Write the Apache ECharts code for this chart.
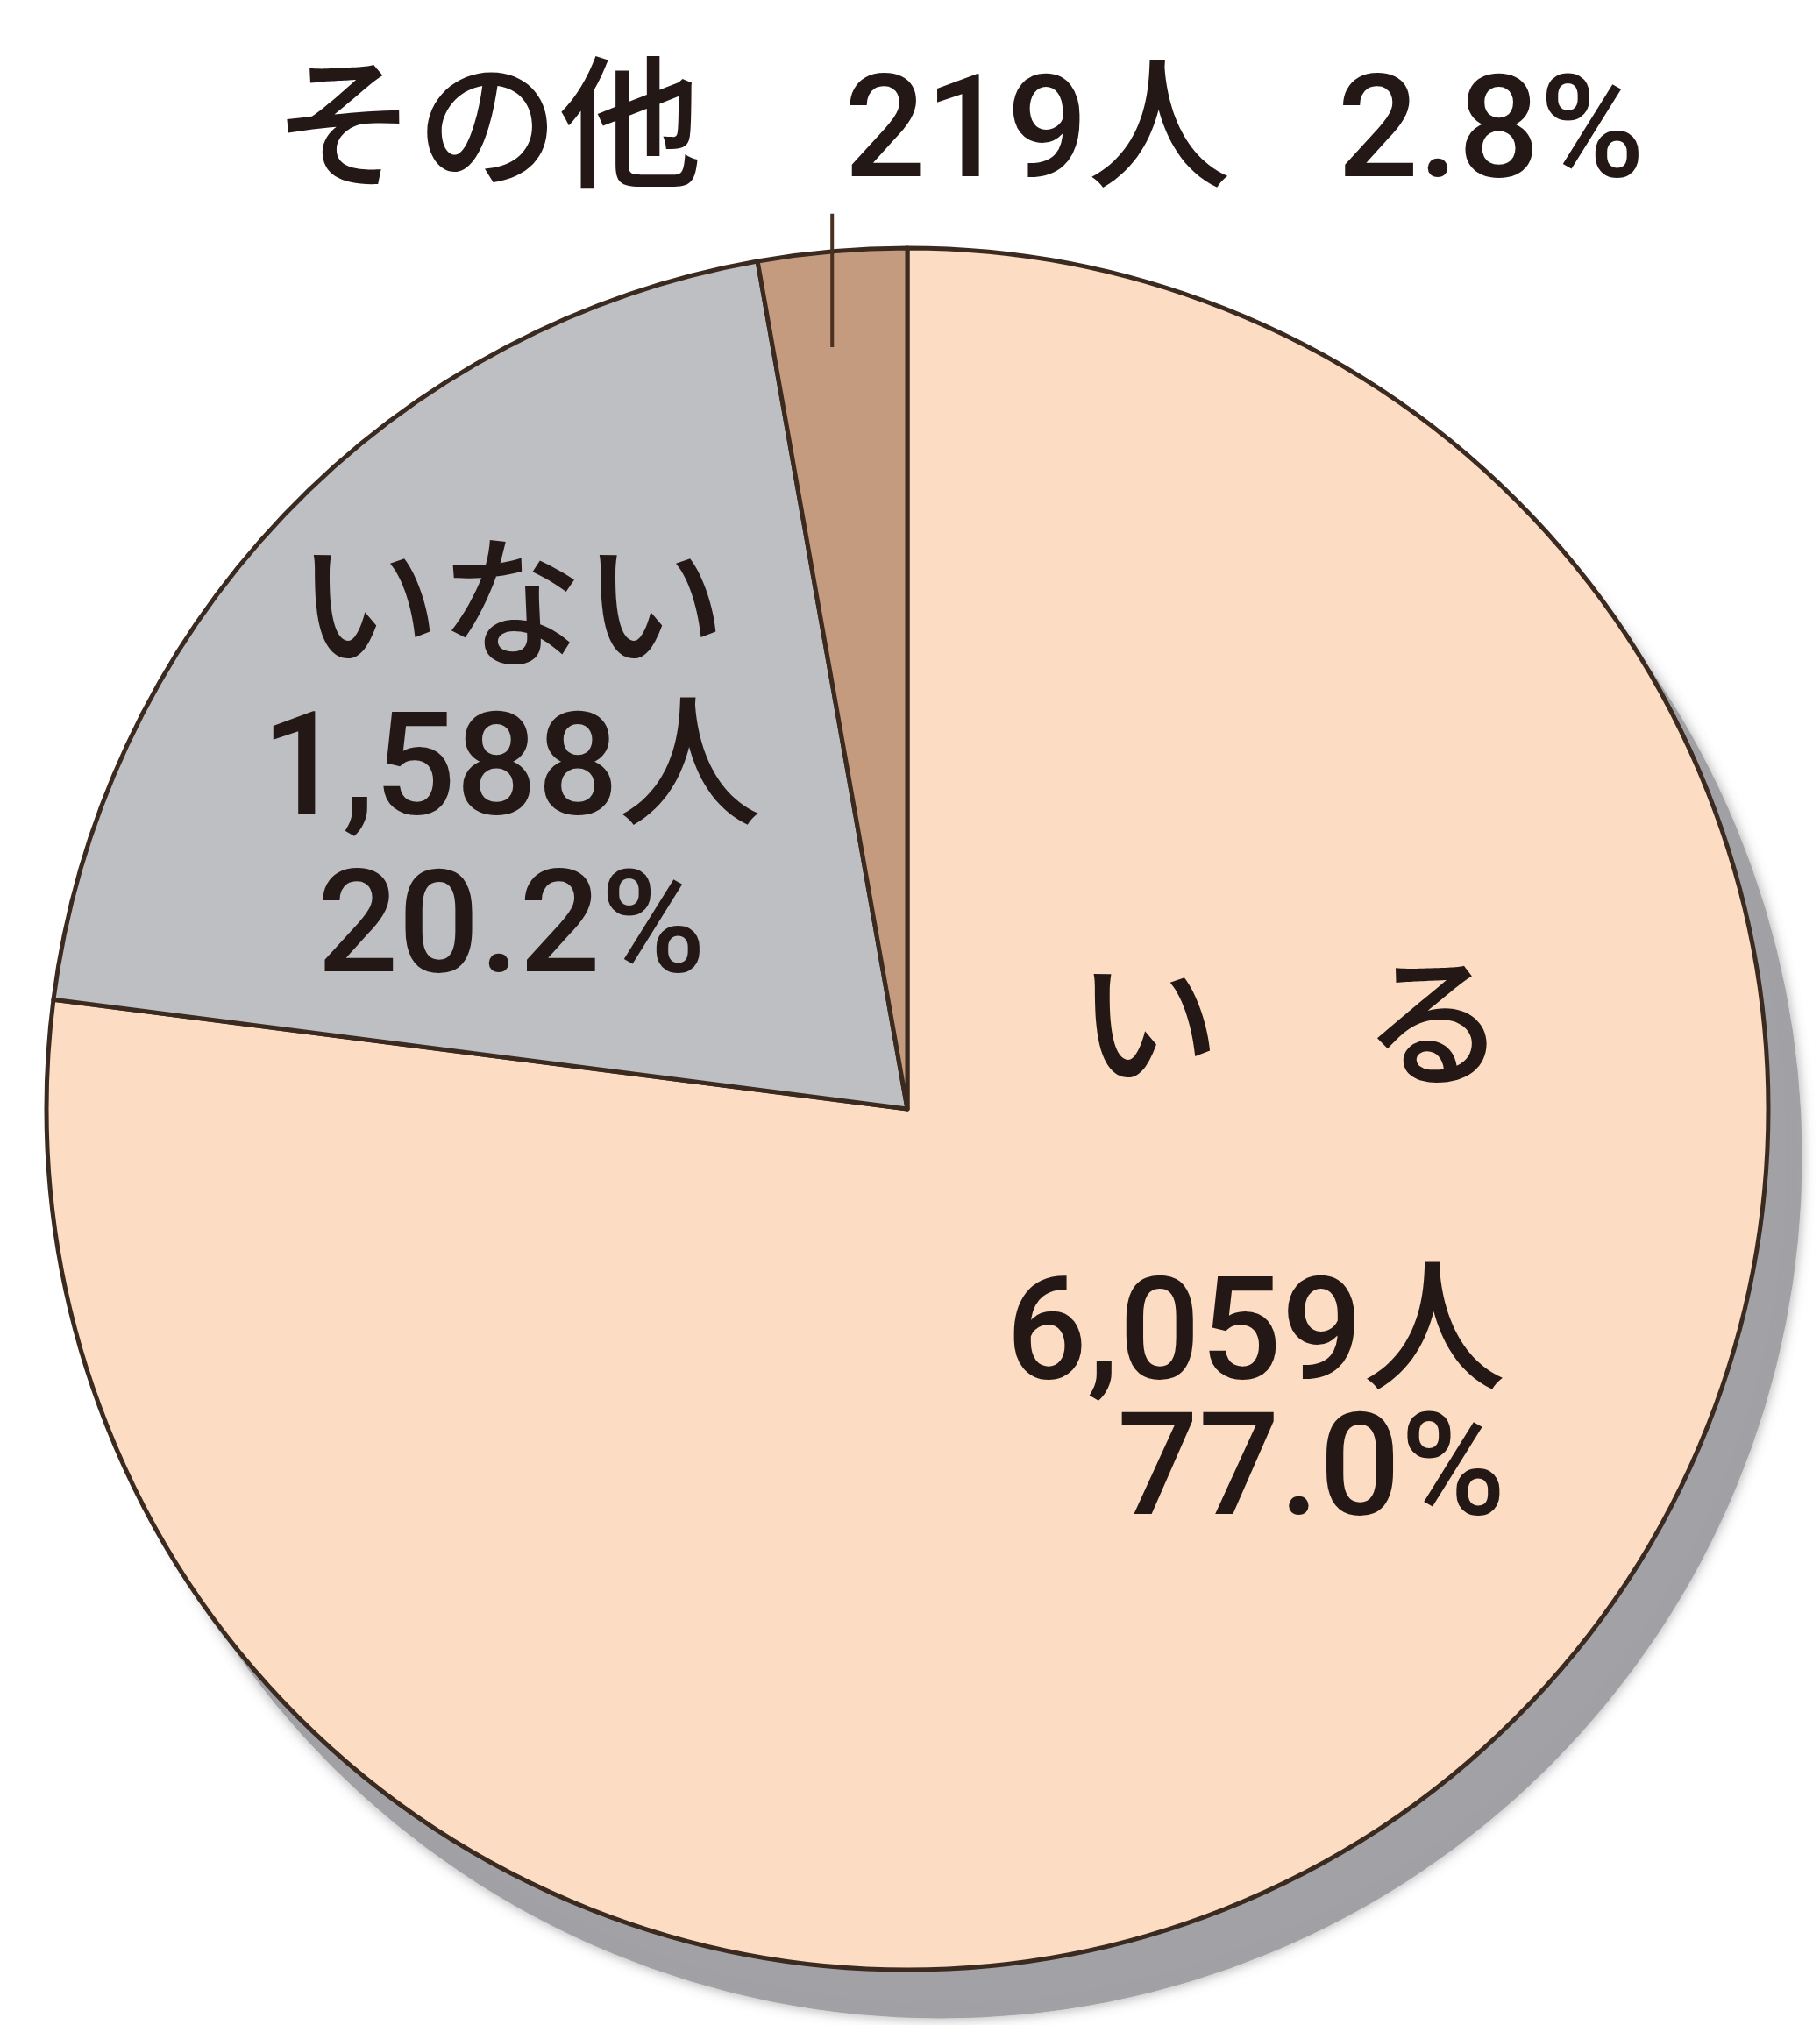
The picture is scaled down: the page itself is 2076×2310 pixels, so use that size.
<!DOCTYPE html>
<html>
<head>
    <meta charset="utf-8">
    <title>ECharts</title>
    <script src="https://cdn.jsdelivr.net/npm/echarts@6/dist/echarts.min.js"></script>
</head>
<body style="margin:0;background:#fff;">
    <div id="main" style="width: 2076px;height:2310px;"></div>
    <script type="text/javascript">
        var myChart = echarts.init(document.getElementById('main'));

        // data
        var categories = ['い　る', 'いない', 'その他'];
        var counts = [6059, 1588, 219];
        var colors = ['#fcdcc2', '#bebfc2', '#c49b7e'];

        // pie geometry (px)
        var CX = 1035, CY = 1265, R = 982;
        var FONT = 'Roboto, "Liberation Sans", "Noto Sans CJK JP", sans-serif';
        var INK = '#231815';
        var FS = 163;

        function fmtLabel(p) {
            var n = echarts.format.addCommas(p.value) + '人';
            var pc = p.percent.toFixed(1) + '%';
            if (p.dataIndex === 0) {
                return '{a|' + p.name + '}\n{sp| }\n{v|' + n + '}\n{v|' + pc + '}';
            }
            if (p.dataIndex === 1) {
                return '{b|' + p.name + '}\n{b|' + n + '}\n{b|' + pc + '}';
            }
            return '{c|' + p.name + '    ' + n + '   ' + pc + '}';
        }

        var pieData = categories.map(function (name, i) {
            return {
                name: name,
                value: counts[i],
                itemStyle: { color: colors[i] }
            };
        });

        var shadowData = categories.map(function (name, i) {
            return { name: name, value: counts[i] };
        });

        // leader line for the small slice, at its mid angle
        var total = counts.reduce(function (a, b) { return a + b; }, 0);
        var before = counts[0] + counts[1];
        var midAng = (before + counts[2] / 2) / total * 2 * Math.PI;
        var leadX = CX + R * Math.sin(midAng);

        var txt = { color: INK, fontFamily: FONT, fontWeight: 500 };

        option = {
            backgroundColor: '#ffffff',
            animation: false,
            graphic: [{
                type: 'line',
                z: 100,
                silent: true,
                shape: { x1: leadX, y1: CY - 1.04 * R, x2: leadX, y2: CY - 0.885 * R },
                style: { stroke: '#4a3020', lineWidth: 4 }
            }],
            series: [{
                // drop shadow behind the pie
                type: 'pie',
                silent: true,
                z: 1,
                center: [CX + 38, CY + 55],
                radius: R,
                startAngle: 90,
                label: { show: false },
                labelLine: { show: false },
                itemStyle: {
                    color: '#a2a2a6',
                    borderColor: '#a2a2a6',
                    borderWidth: 1,
                    shadowBlur: 14,
                    shadowColor: 'rgba(150,150,155,0.8)'
                },
                emphasis: { disabled: true },
                data: shadowData
            }, {
                type: 'pie',
                z: 2,
                center: [CX, CY],
                radius: R,
                startAngle: 90,
                percentPrecision: 1,
                avoidLabelOverlap: false,
                itemStyle: {
                    borderColor: '#3b2a20',
                    borderWidth: 5
                },
                emphasis: { disabled: true },
                labelLine: { show: false },
                label: {
                    show: true,
                    position: 'inside',
                    formatter: fmtLabel,
                    color: INK,
                    fontFamily: FONT,
                    rich: {
                        a: Object.assign({ fontSize: FS, lineHeight: 155 }, txt),
                        sp: { fontSize: 20, lineHeight: 191 },
                        v: Object.assign({ fontSize: FS, lineHeight: 155 }, txt),
                        b: Object.assign({ fontSize: FS, lineHeight: 180 }, txt),
                        c: Object.assign({ fontSize: FS, lineHeight: 170 }, txt)
                    }
                },
                labelLayout: function (params) {
                    if (params.dataIndex === 0) {
                        return { x: CX + 0.695 * R, y: CY - 0.16 * R, align: 'right', verticalAlign: 'top' };
                    }
                    if (params.dataIndex === 1) {
                        return { x: CX - 0.46 * R, y: CY - 0.66 * R, align: 'center', verticalAlign: 'top' };
                    }
                    return { x: CX + 0.06 * R, y: CY - 1.125 * R, align: 'center', verticalAlign: 'middle' };
                },
                data: pieData
            }]
        };

        myChart.setOption(option);
    </script>
</body>
</html>
